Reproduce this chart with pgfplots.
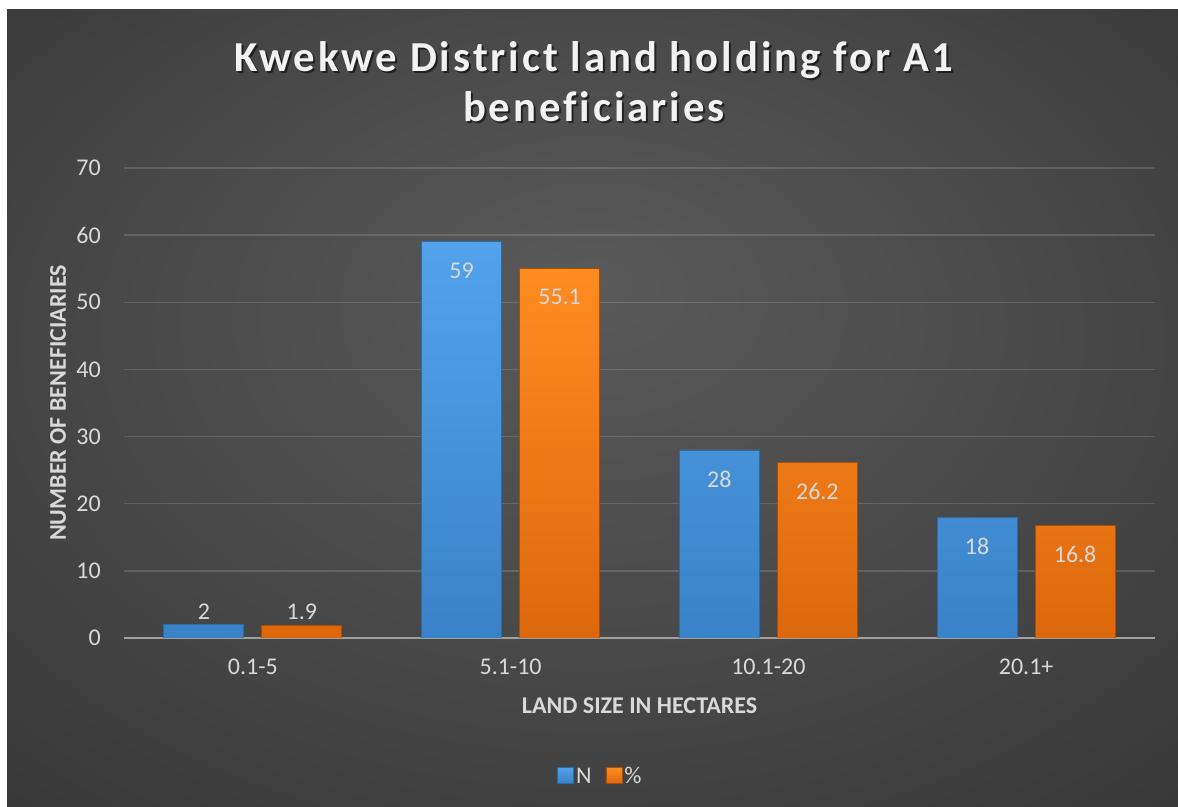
\documentclass[border=0pt]{standalone}
\usepackage{fontspec}
\setmainfont{Carlito}
\newfontfamily\titlefont[LetterSpace=7,Ligatures=NoCommon]{Carlito}
\usepackage{pgfplots}
\pgfplotsset{compat=1.18}
\definecolor{bgin}{HTML}{5A5A5A}
\definecolor{bgmid}{HTML}{444444}
\definecolor{bgout}{HTML}{2A2A2A}
\definecolor{lbl}{HTML}{D9D9D9}
\definecolor{titlec}{HTML}{F2F2F2}
\definecolor{axisgray}{HTML}{A0A0A0}
\definecolor{blueTop}{HTML}{52A3EC}
\definecolor{blueBot}{HTML}{3A82C8}
\definecolor{blueEdge}{HTML}{2C6BA8}
\definecolor{orTop}{HTML}{FF8C22}
\definecolor{orBot}{HTML}{DD680C}
\definecolor{orEdge}{HTML}{A84E08}
\pgfdeclareradialshading{bgshade}{\pgfpoint{0bp}{8bp}}{color(0bp)=(bgin); color(25bp)=(bgmid); color(50bp)=(bgout)}
\begin{document}
\begin{tikzpicture}[x=1bp,y=1bp]
\fill[white] (0,0) rectangle (1178,807);
\shade[shading=bgshade] (7,0) rectangle (1178,797);
\node[anchor=base, font=\titlefont\fontsize{42.7bp}{51bp}\selectfont\bfseries, text=black, opacity=0.55] at (596,733) {Kwekwe District land holding for A1};
\node[anchor=base, font=\titlefont\fontsize{42.7bp}{51bp}\selectfont\bfseries, text=black, opacity=0.55] at (596,683) {beneficiaries};
\node[anchor=base, font=\titlefont\fontsize{42.7bp}{51bp}\selectfont\bfseries, text=titlec] at (594,735) {Kwekwe District land holding for A1};
\node[anchor=base, font=\titlefont\fontsize{42.7bp}{51bp}\selectfont\bfseries, text=titlec] at (594,685) {beneficiaries};
\begin{axis}[
  at={(124bp,169bp)}, anchor=south west,
  scale only axis, width=1031bp, height=470bp,
  xmin=-0.5, xmax=3.5, ymin=0, ymax=70,
  ybar=18bp, bar width=80bp,
  xtick={0,1,2,3}, xticklabels={0.1-5,5.1-10,10.1-20,20.1+},
  ytick={0,10,...,70},
  ymajorgrids, major grid style={draw=white, draw opacity=0.14, line width=1.3bp},
  axis x line*=bottom, axis y line*=left,
  x axis line style={draw=axisgray, line width=2bp, -},
  y axis line style={draw=none},
  major tick length=0pt,
  tick label style={font=\fontsize{24bp}{28bp}\selectfont, text=lbl},
  xticklabel style={anchor=center, yshift=-29bp},
  yticklabel style={anchor=east, inner sep=0pt, xshift=-23bp},
  /pgf/number format/assume math mode=true,
  xlabel={LAND SIZE IN HECTARES}, ylabel={NUMBER OF BENEFICIARIES},
  every axis x label/.style={at={(axis description cs:0.5,-0.145)}, anchor=center, font=\fontsize{24bp}{28bp}\selectfont\bfseries, text=lbl},
  every axis y label/.style={at={(axis description cs:-0.064,0.5)}, anchor=center, rotate=90, font=\fontsize{24bp}{28bp}\selectfont\bfseries, text=lbl},
  nodes near coords,
  visualization depends on={y \as \rawy},
  every node near coord/.append style={font=\fontsize{24bp}{28bp}\selectfont, text=lbl, anchor=center, yshift={ifthenelse(\rawy<5,13,-29)*1bp}},
  legend columns=2,
  legend style={at={(axis description cs:0.462,-0.294)}, anchor=center, draw=none, fill=none, font=\fontsize{24bp}{28bp}\selectfont, text=lbl, /tikz/every even column/.append style={column sep=12bp}},
  legend image code/.code={\fill[#1] (0bp,-7bp) rectangle (16bp,9bp);},
]
\addplot[draw=blueEdge, line width=0.8bp, top color=blueTop, bottom color=blueBot] coordinates {(0,2) (1,59) (2,28) (3,18)};
\addplot[draw=orEdge, line width=0.8bp, top color=orTop, bottom color=orBot] coordinates {(0,1.9) (1,55.1) (2,26.2) (3,16.8)};
\legend{N,\%}
\end{axis}
\end{tikzpicture}
\end{document}
